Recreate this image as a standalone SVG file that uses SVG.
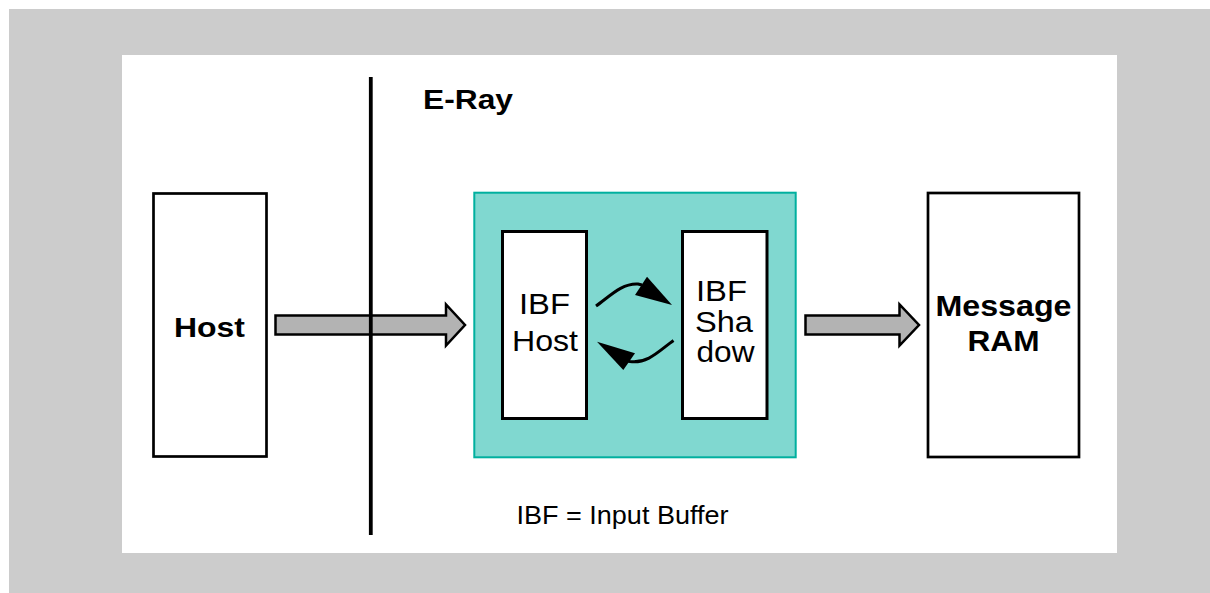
<svg xmlns="http://www.w3.org/2000/svg" width="1210" height="593" viewBox="0 0 1210 593">
<style>
.box{fill:#ffffff;stroke:#000000;stroke-width:2.7}
.inner{fill:#ffffff;stroke:#000000;stroke-width:3}
.blk{fill:#b3b3b3;stroke:#000000;stroke-width:2.5;stroke-linejoin:miter}
.cur{fill:none;stroke:#000000;stroke-width:3;stroke-linecap:butt}
.head{fill:#000000;stroke:none}
.b{font-family:"Liberation Sans",Arial,Helvetica,sans-serif;font-weight:bold;fill:#000}
.r{font-family:"Liberation Sans",Arial,Helvetica,sans-serif;fill:#000}
</style>
<rect x="9" y="9" width="1201" height="584" fill="#cccccc"/>
<rect x="122" y="55" width="995" height="498" fill="#ffffff"/>

<g id="host">
<rect class="box" x="153.5" y="193.5" width="113" height="263"/>
<text class="b" x="174" y="337" font-size="28" textLength="71" lengthAdjust="spacingAndGlyphs">Host</text>
</g>

<g id="eray">
<rect x="474.3" y="192.7" width="321.4" height="264.6" fill="#80d8d0" stroke="#00b09f" stroke-width="2"/>
<text class="b" x="423" y="108.5" font-size="27" textLength="90" lengthAdjust="spacingAndGlyphs">E-Ray</text>
</g>

<g id="ibfhost">
<rect class="inner" x="502.5" y="231.5" width="84" height="187"/>
<text class="r" x="519" y="314.3" font-size="30" textLength="51" lengthAdjust="spacingAndGlyphs">IBF</text>
<text class="r" x="512" y="351" font-size="30" textLength="66" lengthAdjust="spacingAndGlyphs">Host</text>
</g>

<g id="ibfshadow">
<rect class="inner" x="682.5" y="231.5" width="84.5" height="187"/>
<text class="r" x="696" y="301" font-size="30" textLength="51" lengthAdjust="spacingAndGlyphs">IBF</text>
<text class="r" x="695" y="331.7" font-size="30" textLength="58" lengthAdjust="spacingAndGlyphs">Sha</text>
<text class="r" x="696.5" y="361.7" font-size="30" textLength="58" lengthAdjust="spacingAndGlyphs">dow</text>
</g>

<g id="msgram">
<rect class="box" x="928" y="193" width="151" height="264"/>
<text class="b" x="935.5" y="315.5" font-size="29" textLength="136" lengthAdjust="spacingAndGlyphs">Message</text>
<text class="b" x="967.5" y="350.5" font-size="29" textLength="72" lengthAdjust="spacingAndGlyphs">RAM</text>
</g>

<g id="legend">
<text class="r" x="516.5" y="523.5" font-size="26" textLength="212" lengthAdjust="spacingAndGlyphs">IBF = Input Buffer</text>
</g>

<g id="connectors">
<path class="blk" d="M275.5,315.5 H446 V304.5 L465,325 L446,345.5 V334.5 H275.5 Z"/>
<path class="blk" d="M805.5,315.5 H899.5 V304.5 L919,325 L899.5,345.5 V334.5 H805.5 Z"/>
<path class="cur" d="M596,306 C610,296 622,283 638,284 L642,285"/>
<polygon class="head" points="647,276.7 672,305 635,295"/>
<path class="cur" d="M673.5,340.5 C660,350 648,364 630,361.5 L627,361"/>
<polygon class="head" points="597,341.7 635,353.3 623.3,370"/>
<line x1="370.8" y1="77" x2="370.8" y2="535" stroke="#000" stroke-width="3.8"/>
</g>
</svg>
